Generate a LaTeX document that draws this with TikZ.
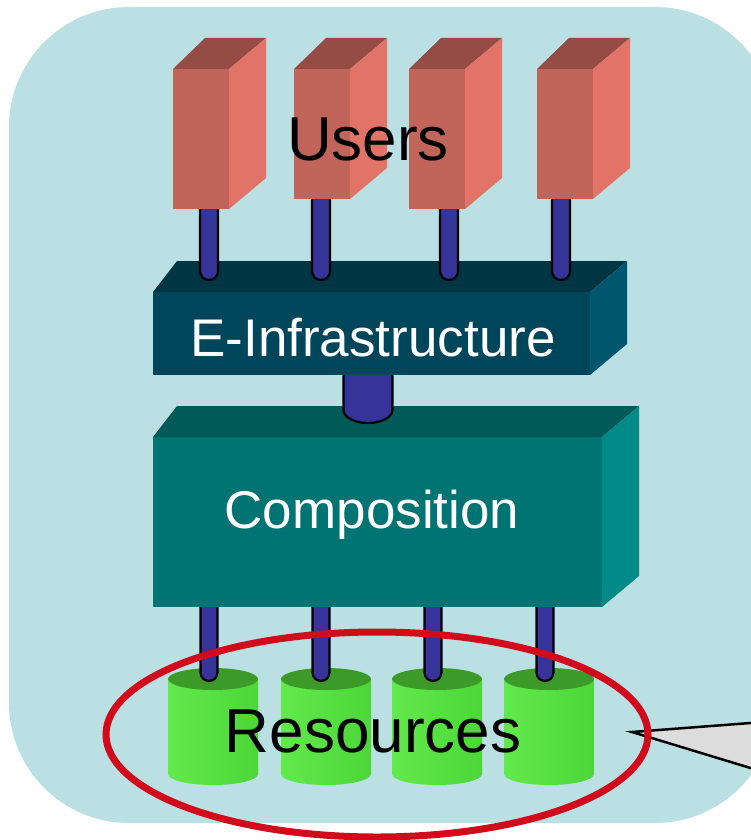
\documentclass[tikz,border=0pt]{standalone}
\usepackage{fontspec}
\setmainfont{Liberation Sans}
\usetikzlibrary{calc,shapes.geometric}

\definecolor{panel}{HTML}{BAE0E3}
\definecolor{userfront}{HTML}{C16459}
\definecolor{usertop}{HTML}{954C44}
\definecolor{userside}{HTML}{E27467}
\definecolor{infrafront}{HTML}{00465A}
\definecolor{infratop}{HTML}{003544}
\definecolor{infraside}{HTML}{00566F}
\definecolor{compfront}{HTML}{007472}
\definecolor{comptop}{HTML}{005A58}
\definecolor{compside}{HTML}{008A88}
\definecolor{stickblue}{HTML}{363399}
\definecolor{drumtop}{HTML}{3C9B28}
\definecolor{drumlight}{HTML}{62EA4C}
\definecolor{drummid}{HTML}{48CF34}
\definecolor{drumbody}{HTML}{4CD638}
\definecolor{ringred}{HTML}{D10A1C}
\definecolor{calloutgrey}{HTML}{DCDCDC}

\pgfdeclarelayer{l0}
\pgfdeclarelayer{l1}
\pgfdeclarelayer{l2}
\pgfdeclarelayer{l3}
\pgfdeclarelayer{l4}
\pgfdeclarelayer{l5}
\pgfdeclarelayer{l6}
\pgfsetlayers{l0,l1,l2,l3,l4,l5,l6,main}

\tikzset{
  face/.style={inner sep=0pt, outer sep=0pt, draw=none},
  stickline/.style={fill=stickblue, draw=black, line width=2.2pt, line join=round},
  bigword/.style={anchor=base, inner sep=0pt, font=\fontsize{62}{74}\selectfont},
  boxword/.style={anchor=base, inner sep=0pt, text=white, font=\fontsize{53}{64}\selectfont},
}

% a box seen from above right: front face as a node, top and side faces added
% #1 name, #2,#3 top-left corner of the front, #4 width, #5 height,
% #6 front colour, #7 top colour, #8 side colour, #9 back-left offset
\newcommand\cuboid[9]{%
  \node[face, fill=#6, minimum width=#4pt, minimum height=#5pt, anchor=north west] (#1) at (#2,#3) {};
  \fill[#7] (#1.north west) -- ++(#9,-31) -- ($(#1.north east)+(37,-31)$) -- (#1.north east) -- cycle;
  \fill[#8] (#1.north east) -- ++(37,-31) -- ++(0,#5) -- (#1.south east) -- cycle;
}

% a rod hanging from #1 down to the free end #2, half width #3, depth of the rounded end #4
\newcommand\stick[4]{%
  \path[stickline] let \p1=(#1), \p2=(#2) in
    (\x2-#3pt,\y1) -- (\x2-#3pt,\y2+#4pt)
    arc[start angle=180, end angle=360, x radius=#3pt, y radius=#4pt]
    -- (\x2+#3pt,\y1);
}

% a storage drum: #1 name of the centre of its top, #2 centre x, #3 top y
\newcommand\drum[3]{%
  \coordinate (#1) at (#2,#3);
  \shade[left color=drumlight, middle color=drummid, right color=drumbody]
    ($(#1)+(-45,0)$) -- ++(0,95)
    arc[start angle=180, end angle=360, x radius=45pt, y radius=11pt]
    -- ($(#1)+(45,0)$) -- cycle;
  \fill[drumtop] (#1) ellipse [x radius=45pt, y radius=11pt];
}

\begin{document}
\begin{tikzpicture}[x=1pt, y=-1pt]
\useasboundingbox (0,0) rectangle (751,840);
\clip (0,0) rectangle (751,840);

\begin{pgfonlayer}{l0}
  \fill[panel, rounded corners=120pt] (9,7) rectangle (775,823);
  \coordinate (tip) at (632,732);
  \filldraw[fill=calloutgrey, draw=black, line width=2.5pt, line join=miter]
    (790,720) -- (tip) -- (790,780);
\end{pgfonlayer}

% resources
\begin{pgfonlayer}{l1}
  \drum{r1}{213}{679}
  \drum{r2}{326}{679}
  \drum{r3}{437}{679}
  \drum{r4}{549}{679}
\end{pgfonlayer}

% composition layer
\begin{pgfonlayer}{l3}
  \cuboid{comp}{153}{437}{449}{170}{compfront}{comptop}{compside}{24}
\end{pgfonlayer}

% e-infrastructure layer
\begin{pgfonlayer}{l5}
  \cuboid{infra}{153}{292}{437}{83}{infrafront}{infratop}{infraside}{24}
\end{pgfonlayer}

% users
\cuboid{u1}{173}{69}{56}{140}{userfront}{usertop}{userside}{32}
\cuboid{u2}{294}{69}{56}{130}{userfront}{usertop}{userside}{32}
\cuboid{u3}{409}{69}{56}{140}{userfront}{usertop}{userside}{32}
\cuboid{u4}{537}{69}{56}{130}{userfront}{usertop}{userside}{32}

% free ends of the rods
\coordinate (t1) at (209,280);
\coordinate (t2) at (321,280);
\coordinate (t3) at (449,280);
\coordinate (t4) at (561,280);
\coordinate (mid) at (368,423);
\coordinate (b1) at (209,681);
\coordinate (b2) at (321,681);
\coordinate (b3) at (433,681);
\coordinate (b4) at (545,681);

\begin{pgfonlayer}{l6}
  \stick{u1}{t1}{9}{9}
  \stick{u2}{t2}{9}{9}
  \stick{u3}{t3}{9}{9}
  \stick{u4}{t4}{9}{9}
\end{pgfonlayer}

\begin{pgfonlayer}{l4}
  \stick{infra}{mid}{24.5}{13}
\end{pgfonlayer}

\begin{pgfonlayer}{l2}
  \stick{comp}{b1}{8.5}{8.5}
  \stick{comp}{b2}{8.5}{8.5}
  \stick{comp}{b3}{8.5}{8.5}
  \stick{comp}{b4}{8.5}{8.5}
\end{pgfonlayer}

% labels
\node[bigword] (userslabel) at (368,160) {Users};
\node[boxword] (infralabel) at (373,356) {E-Infrastructure};
\node[boxword] (complabel) at (372,528) {Composition};
\node[bigword] (reslabel) at (373,752) {Resources};

% highlight ring round the resources
\node[draw=ringred, line width=7pt, ellipse, inner sep=0pt,
      minimum width=542pt, minimum height=205pt] (ring) at (377,734.5) {};
\end{tikzpicture}
\end{document}
